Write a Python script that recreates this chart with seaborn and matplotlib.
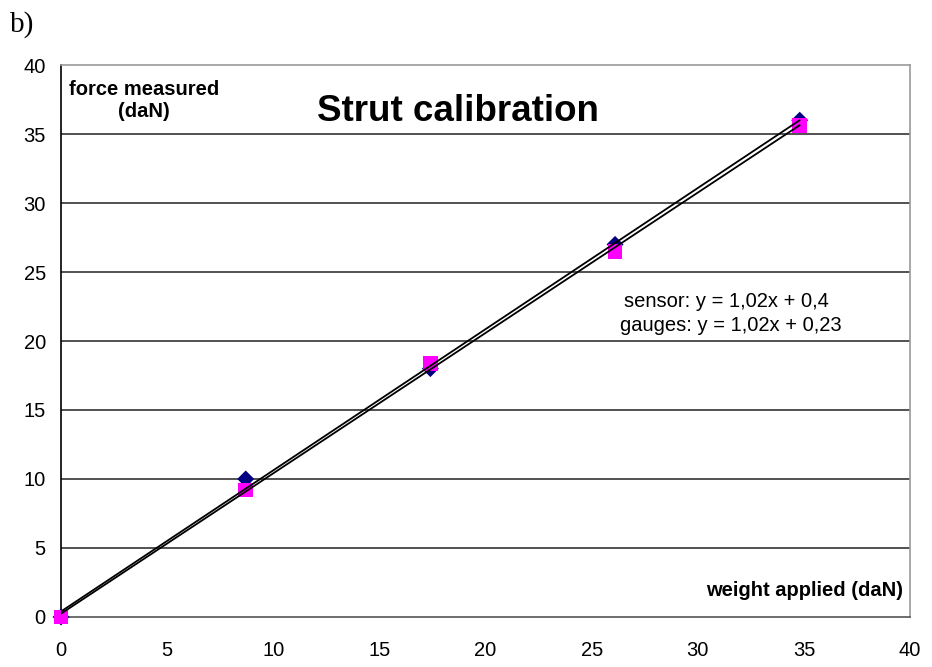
import numpy as np
import matplotlib
matplotlib.use("Agg")
import matplotlib.pyplot as plt
import pandas as pd
import seaborn as sns

# Data
weight_applied = [0, 8.7, 17.4, 26.1, 34.8]
sensor_force = [0, 10, 18, 27, 36]
gauges_force = [0, 9.2, 18.4, 26.5, 35.6]
x_ticks = [0, 5, 10, 15, 20, 25, 30, 35, 40]
y_ticks = [0, 5, 10, 15, 20, 25, 30, 35, 40]

sns.set_style("white")
plt.rcParams['font.family'] = ['Liberation Sans', 'DejaVu Sans']
plt.rcParams['text.color'] = 'black'
plt.rcParams['xtick.color'] = 'black'
plt.rcParams['ytick.color'] = 'black'

df = pd.DataFrame({
    'weight': weight_applied,
    'sensor': sensor_force,
    'gauges': gauges_force,
})

fig = plt.figure(figsize=(9.32, 6.67), dpi=100)
ax = fig.add_axes([0.0655, 0.075, 0.911, 0.8275])

# Horizontal grid lines
for yt in y_ticks[1:-1]:
    ax.axhline(yt, color='#222222', lw=1.1, zorder=1)

# Points: diamonds for sensor, squares for gauges (squares drawn on top)
sns.scatterplot(data=df, x='weight', y='sensor', marker='D', s=75, color='#000080',
                edgecolor='none', ax=ax, zorder=3, clip_on=False)
sns.scatterplot(data=df, x='weight', y='gauges', marker='s', s=115, color='#ff00ff',
                edgecolor='none', ax=ax, zorder=4, clip_on=False)

# Linear trendlines
for col in ['sensor', 'gauges']:
    slope, intercept = np.polyfit(df['weight'], df[col], 1)
    fit = pd.DataFrame({'x': [df['weight'].min(), df['weight'].max()]})
    fit['y'] = slope * fit['x'] + intercept
    sns.lineplot(data=fit, x='x', y='y', color='black', lw=1.3, ax=ax, zorder=5)

ax.set_xlim(0, 40)
ax.set_ylim(0, 40)
ax.set_xticks(x_ticks)
ax.set_yticks(y_ticks)
ax.set_xlabel('')
ax.set_ylabel('')
ax.tick_params(axis='both', direction='out', length=5, width=1, color='#555555',
               labelsize=14.5, pad=6)
ax.tick_params(axis='x', pad=12)

ax.spines['left'].set_color('black')
ax.spines['bottom'].set_color('#555555')
ax.spines['top'].set_color('#999999')
ax.spines['right'].set_color('#999999')
for s in ax.spines.values():
    s.set_linewidth(1.2)

# Texts
ax.text(18.7, 36.6, 'Strut calibration', fontsize=26.5, fontweight='bold',
        ha='center', va='center')
ax.text(3.9, 37.4, 'force measured\n(daN)', fontsize=14.5, fontweight='bold',
        ha='center', va='center', linespacing=1.2)
ax.text(39.65, 1.9, 'weight applied (daN)', fontsize=14.5, fontweight='bold',
        ha='right', va='center')
ax.text(26.5, 22.85, 'sensor: y = 1,02x + 0,4', fontsize=14.5, ha='left', va='center')
ax.text(26.35, 21.1, 'gauges: y = 1,02x + 0,23', fontsize=14.5, ha='left', va='center')

fig.text(0.011, 0.963, 'b)', fontsize=21, family='Liberation Serif',
         ha='left', va='center')

fig.savefig('out.png', dpi=100)
